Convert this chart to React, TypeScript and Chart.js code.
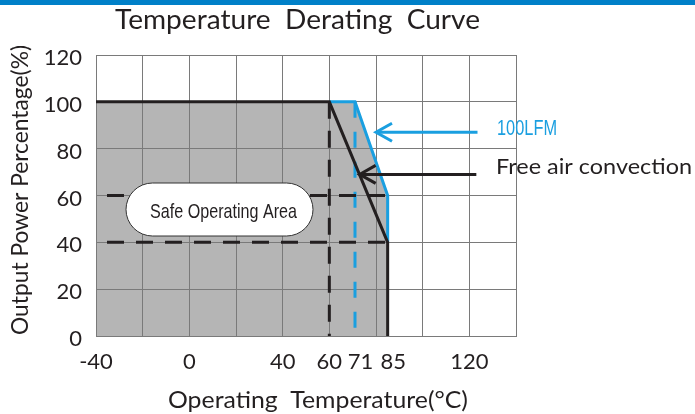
import React, { useEffect, useRef } from 'react';
import { Chart, registerables } from 'chart.js';

Chart.register(...registerables);

// ---- data ----
const xGridValues = [-40, -20, 0, 20, 40, 60, 80, 100, 120, 140];
const xTickLabels = [-40, 0, 40, 60, 71, 85, 120];
const yTickValues = [0, 20, 40, 60, 80, 100, 120];

const freeAirTemp = [-40, 60, 85, 85];
const freeAirPower = [100, 100, 40, 0];
const lfmTemp = [60, 71, 85, 85];
const lfmPower = [100, 100, 60, 40];
const safeAreaTemp = [-40, 60, 71, 85, 85];
const safeAreaPower = [100, 100, 100, 60, 0];

const guide60Temp = [-40, 85];
const guide60Power = [60, 60];
const guide40Temp = [-40, 85];
const guide40Power = [40, 40];
const guideT60Temp = [60, 60];
const guideT60Power = [100, 0];
const guideT71Temp = [71, 71];
const guideT71Power = [100, 0];

const lfmArrowTemp = [123.5, 80];
const lfmArrowPower = [87, 87];
const freeArrowTemp = [123, 73];
const freeArrowPower = [69, 69];

const BLUE = '#1a9fe0';
const INK = '#231f20';
const GRID = '#7a7a7a';
const FILL = '#b5b5b5';

const zip = (xs: number[], ys: number[]) => xs.map((x, i) => ({ x, y: ys[i] }));

function fitted(ctx: CanvasRenderingContext2D, text: string, left: number, base: number, width: number, font: string, color: string) {
  ctx.save();
  ctx.font = font;
  const w = ctx.measureText(text).width;
  ctx.translate(left, base);
  ctx.scale(width / w, 1);
  ctx.fillStyle = color;
  ctx.textAlign = 'left';
  ctx.textBaseline = 'alphabetic';
  ctx.fillText(text, 0, 0);
  ctx.restore();
}

function arrow(ctx: CanvasRenderingContext2D, x0: number, y0: number, x1: number, y1: number, color: string) {
  ctx.save();
  ctx.strokeStyle = color;
  ctx.lineWidth = 3;
  ctx.lineCap = 'butt';
  ctx.beginPath();
  ctx.moveTo(x0, y0);
  ctx.lineTo(x1 + 2, y1);
  ctx.stroke();
  ctx.beginPath();
  ctx.moveTo(x1 + 16, y1 - 9);
  ctx.lineTo(x1, y1);
  ctx.lineTo(x1 + 16, y1 + 9);
  ctx.stroke();
  ctx.restore();
}

const decor = {
  id: 'decor',
  beforeDraw(chart: any) {
    const ctx = chart.ctx;
    ctx.save();
    ctx.fillStyle = '#0080c8';
    ctx.fillRect(0, 0, chart.width, 5);
    ctx.restore();
  },
  afterDatasetsDraw(chart: any) {
    const { ctx, scales } = chart;
    const x = scales.x, y = scales.y;
    arrow(ctx, x.getPixelForValue(lfmArrowTemp[0]), y.getPixelForValue(lfmArrowPower[0]), x.getPixelForValue(lfmArrowTemp[1]), y.getPixelForValue(lfmArrowPower[1]), BLUE);
    arrow(ctx, x.getPixelForValue(freeArrowTemp[0]), y.getPixelForValue(freeArrowPower[0]), x.getPixelForValue(freeArrowTemp[1]), y.getPixelForValue(freeArrowPower[1]), INK);

    // Safe operating area pill
    const bx = 126, by = 183, bw = 187, bh = 53, r = bh / 2;
    ctx.save();
    ctx.beginPath();
    ctx.moveTo(bx + r, by);
    ctx.lineTo(bx + bw - r, by);
    ctx.arc(bx + bw - r, by + r, r, -Math.PI / 2, Math.PI / 2);
    ctx.lineTo(bx + r, by + bh);
    ctx.arc(bx + r, by + r, r, Math.PI / 2, Math.PI * 1.5);
    ctx.closePath();
    ctx.fillStyle = '#ffffff';
    ctx.fill();
    ctx.lineWidth = 1;
    ctx.strokeStyle = '#333';
    ctx.stroke();
    ctx.restore();
    fitted(ctx, 'Safe Operating Area', 150, 218, 147, '21px "Liberation Sans"', INK);
  },
  afterDraw(chart: any) {
    const ctx = chart.ctx;
    fitted(ctx, 'Temperature  Derating  Curve', 115, 29, 365, '27px Lato', INK);
    fitted(ctx, '100LFM', 497, 135, 60, '22px "Liberation Sans"', BLUE);
    fitted(ctx, 'Free air convection', 496, 174, 196, '21px Lato', INK);
    fitted(ctx, 'Operating  Temperature(°C)', 168, 408, 300, '23px Lato', INK);
    ctx.save();
    ctx.translate(28, 335);
    ctx.rotate(-Math.PI / 2);
    fitted(ctx, 'Output Power Percentage(%)', 0, 0, 290, '23px Lato', INK);
    ctx.restore();
  },
};

export default function App() {
  const ref = useRef<HTMLCanvasElement | null>(null);
  useEffect(() => {
    if (!ref.current) return;
    const line = (data: any, color: string, width: number, dash: number[], dashOffset: number, order: number) => ({
      data,
      showLine: true,
      borderColor: color,
      borderWidth: width,
      borderDash: dash,
      borderDashOffset: dashOffset,
      pointRadius: 0,
      fill: false,
      order,
      tension: 0,
    });
    const chart = new Chart(ref.current, {
      type: 'scatter',
      data: {
        datasets: [
          {
            data: zip(safeAreaTemp, safeAreaPower),
            showLine: true,
            borderWidth: 0,
            borderColor: 'rgba(0,0,0,0)',
            backgroundColor: FILL,
            fill: 'origin',
            pointRadius: 0,
            order: 10,
          } as any,
          line(zip(guide60Temp, guide60Power), INK, 3, [17, 12], 18, 5),
          line(zip(guide40Temp, guide40Power), INK, 3, [17, 12], 18, 5),
          line(zip(guideT60Temp, guideT60Power), INK, 3, [17, 12], 0, 5),
          line(zip(guideT71Temp, guideT71Power), BLUE, 3, [16, 14], 0, 5),
          line(zip(lfmTemp, lfmPower), BLUE, 3, [], 0, 3),
          line(zip(freeAirTemp, freeAirPower), INK, 3, [], 0, 1),
        ],
      },
      options: {
        responsive: false,
        animation: false,
        devicePixelRatio: 1,
        layout: { padding: { top: 55, right: 179, left: 0, bottom: 0 } },
        plugins: {
          legend: { display: false },
          tooltip: { enabled: false },
          filler: { drawTime: 'beforeDraw' } as any,
        },
        scales: {
          x: {
            type: 'linear',
            min: -40,
            max: 140,
            afterBuildTicks: (scale: any) => {
              const vals = Array.from(new Set([...xGridValues, ...xTickLabels])).sort((a, b) => a - b);
              scale.ticks = vals.map((v) => ({ value: v }));
            },
            afterFit: (scale: any) => { scale.height = 78; },
            grid: {
              color: (c: any) => (c.tick && xGridValues.includes(c.tick.value) ? GRID : 'rgba(0,0,0,0)'),
              drawTicks: false,
              lineWidth: 1,
            },
            border: { color: GRID, width: 1 },
            ticks: {
              autoSkip: false,
              maxRotation: 0,
              padding: 13,
              color: INK,
              font: { family: 'Lato', size: 22 },
              callback: (v: any) => {
                const n = Number(v);
                if (!xTickLabels.includes(n)) return '';
                // nudge the crowded 71 / 85 labels apart like the reference
                return n === 71 || n === 85 ? '\u2002' + String(n) : String(n);
              },
            },
          },
          y: {
            type: 'linear',
            min: 0,
            max: 120,
            afterBuildTicks: (scale: any) => {
              scale.ticks = yTickValues.map((v) => ({ value: v }));
            },
            afterFit: (scale: any) => { scale.width = 96; },
            grid: { color: GRID, drawTicks: false, lineWidth: 1 },
            border: { color: GRID, width: 1 },
            ticks: {
              padding: 14,
              color: INK,
              labelOffset: 3,
              font: { family: 'Lato', size: 22 },
            },
          },
        },
      },
      plugins: [decor],
    });
    return () => chart.destroy();
  }, []);
  return (
    <div style={{ position: 'fixed', left: 0, top: 0, width: 695, height: 414, background: '#fff' }}>
      <canvas ref={ref} width={695} height={414} style={{ display: 'block' }} />
    </div>
  );
}
